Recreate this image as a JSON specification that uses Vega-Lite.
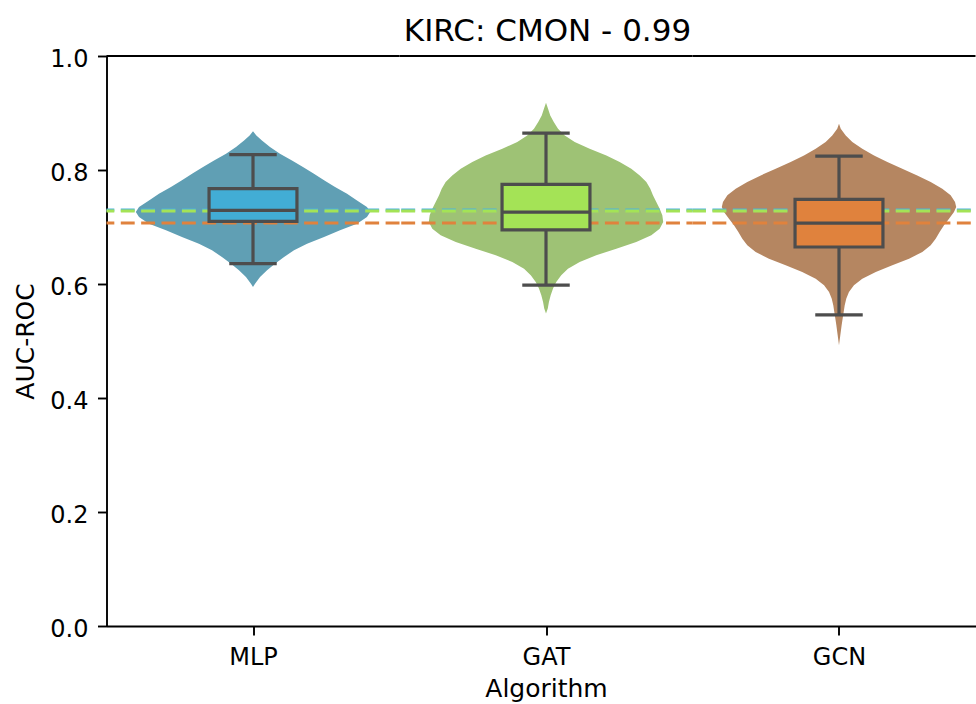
{
  "$schema": "https://vega.github.io/schema/vega-lite/v6.json",
  "padding": {"left": 13.5, "top": 16, "right": 0, "bottom": 0},
  "config": {
    "view": {"stroke": null},
    "font": "DejaVu Sans",
    "axis": {"domainColor": "#000", "domainWidth": 1.9, "tickColor": "#000", "tickWidth": 1.9, "tickSize": 9, "labelColor": "#000", "labelFontSize": 24, "labelFont": "DejaVu Sans", "titleFont": "DejaVu Sans", "titleFontSize": 25, "titleFontWeight": "normal", "titleColor": "#000", "grid": false, "labelFlush": false}
  },
  "datasets": {
    "violin": [
      {"alg": "MLP", "value": 0.8682, "density": 0},
      {"alg": "MLP", "value": 0.8607, "density": 0.023},
      {"alg": "MLP", "value": 0.8519, "density": 0.061},
      {"alg": "MLP", "value": 0.8402, "density": 0.116},
      {"alg": "MLP", "value": 0.8285, "density": 0.184},
      {"alg": "MLP", "value": 0.8168, "density": 0.266},
      {"alg": "MLP", "value": 0.8051, "density": 0.341},
      {"alg": "MLP", "value": 0.7934, "density": 0.416},
      {"alg": "MLP", "value": 0.7818, "density": 0.485},
      {"alg": "MLP", "value": 0.7701, "density": 0.56},
      {"alg": "MLP", "value": 0.7584, "density": 0.642},
      {"alg": "MLP", "value": 0.7467, "density": 0.71},
      {"alg": "MLP", "value": 0.735, "density": 0.778},
      {"alg": "MLP", "value": 0.7263, "density": 0.8},
      {"alg": "MLP", "value": 0.7175, "density": 0.778},
      {"alg": "MLP", "value": 0.7058, "density": 0.71},
      {"alg": "MLP", "value": 0.6941, "density": 0.594},
      {"alg": "MLP", "value": 0.6824, "density": 0.485},
      {"alg": "MLP", "value": 0.6708, "density": 0.369},
      {"alg": "MLP", "value": 0.6591, "density": 0.28},
      {"alg": "MLP", "value": 0.6474, "density": 0.212},
      {"alg": "MLP", "value": 0.6357, "density": 0.15},
      {"alg": "MLP", "value": 0.624, "density": 0.096},
      {"alg": "MLP", "value": 0.6123, "density": 0.048},
      {"alg": "MLP", "value": 0.6006, "density": 0.014},
      {"alg": "MLP", "value": 0.5948, "density": 0},
      {"alg": "GAT", "value": 0.9179, "density": 0},
      {"alg": "GAT", "value": 0.9074, "density": 0.014},
      {"alg": "GAT", "value": 0.8957, "density": 0.029},
      {"alg": "GAT", "value": 0.884, "density": 0.053},
      {"alg": "GAT", "value": 0.8723, "density": 0.082},
      {"alg": "GAT", "value": 0.8607, "density": 0.128},
      {"alg": "GAT", "value": 0.849, "density": 0.196},
      {"alg": "GAT", "value": 0.8373, "density": 0.298},
      {"alg": "GAT", "value": 0.8256, "density": 0.412},
      {"alg": "GAT", "value": 0.8139, "density": 0.503},
      {"alg": "GAT", "value": 0.8022, "density": 0.582},
      {"alg": "GAT", "value": 0.7905, "density": 0.64},
      {"alg": "GAT", "value": 0.7789, "density": 0.685},
      {"alg": "GAT", "value": 0.7672, "density": 0.712},
      {"alg": "GAT", "value": 0.7555, "density": 0.73},
      {"alg": "GAT", "value": 0.7438, "density": 0.753},
      {"alg": "GAT", "value": 0.7321, "density": 0.776},
      {"alg": "GAT", "value": 0.7204, "density": 0.794},
      {"alg": "GAT", "value": 0.7087, "density": 0.8},
      {"alg": "GAT", "value": 0.697, "density": 0.776},
      {"alg": "GAT", "value": 0.6854, "density": 0.719},
      {"alg": "GAT", "value": 0.6737, "density": 0.616},
      {"alg": "GAT", "value": 0.662, "density": 0.48},
      {"alg": "GAT", "value": 0.6503, "density": 0.343},
      {"alg": "GAT", "value": 0.6386, "density": 0.23},
      {"alg": "GAT", "value": 0.6269, "density": 0.15},
      {"alg": "GAT", "value": 0.6152, "density": 0.104},
      {"alg": "GAT", "value": 0.6036, "density": 0.07},
      {"alg": "GAT", "value": 0.5919, "density": 0.048},
      {"alg": "GAT", "value": 0.5802, "density": 0.032},
      {"alg": "GAT", "value": 0.5685, "density": 0.02},
      {"alg": "GAT", "value": 0.5568, "density": 0.012},
      {"alg": "GAT", "value": 0.5481, "density": 0},
      {"alg": "GCN", "value": 0.8811, "density": 0},
      {"alg": "GCN", "value": 0.8723, "density": 0.012},
      {"alg": "GCN", "value": 0.8607, "density": 0.046},
      {"alg": "GCN", "value": 0.849, "density": 0.091},
      {"alg": "GCN", "value": 0.8373, "density": 0.159},
      {"alg": "GCN", "value": 0.8256, "density": 0.239},
      {"alg": "GCN", "value": 0.8139, "density": 0.33},
      {"alg": "GCN", "value": 0.8022, "density": 0.432},
      {"alg": "GCN", "value": 0.7905, "density": 0.534},
      {"alg": "GCN", "value": 0.7789, "density": 0.626},
      {"alg": "GCN", "value": 0.7672, "density": 0.705},
      {"alg": "GCN", "value": 0.7555, "density": 0.762},
      {"alg": "GCN", "value": 0.7438, "density": 0.792},
      {"alg": "GCN", "value": 0.735, "density": 0.8},
      {"alg": "GCN", "value": 0.7263, "density": 0.785},
      {"alg": "GCN", "value": 0.7146, "density": 0.751},
      {"alg": "GCN", "value": 0.7029, "density": 0.717},
      {"alg": "GCN", "value": 0.6912, "density": 0.687},
      {"alg": "GCN", "value": 0.6795, "density": 0.66},
      {"alg": "GCN", "value": 0.6678, "density": 0.626},
      {"alg": "GCN", "value": 0.6561, "density": 0.569},
      {"alg": "GCN", "value": 0.6445, "density": 0.478},
      {"alg": "GCN", "value": 0.6328, "density": 0.364},
      {"alg": "GCN", "value": 0.6211, "density": 0.251},
      {"alg": "GCN", "value": 0.6094, "density": 0.159},
      {"alg": "GCN", "value": 0.5977, "density": 0.102},
      {"alg": "GCN", "value": 0.586, "density": 0.068},
      {"alg": "GCN", "value": 0.5744, "density": 0.05},
      {"alg": "GCN", "value": 0.5627, "density": 0.039},
      {"alg": "GCN", "value": 0.551, "density": 0.032},
      {"alg": "GCN", "value": 0.5393, "density": 0.025},
      {"alg": "GCN", "value": 0.5276, "density": 0.018},
      {"alg": "GCN", "value": 0.5101, "density": 0.009},
      {"alg": "GCN", "value": 0.4925, "density": 0}
    ],
    "box": [
      {"alg": "MLP", "lo": 0.6358, "q1": 0.710, "med": 0.7292, "q3": 0.7672, "hi": 0.8268},
      {"alg": "GAT", "lo": 0.5982, "q1": 0.695, "med": 0.7262, "q3": 0.7748, "hi": 0.8647},
      {"alg": "GCN", "lo": 0.5457, "q1": 0.6649, "med": 0.7069, "q3": 0.7485, "hi": 0.8244}
    ],
    "means": [
      {"alg": "MLP", "mean": 0.730},
      {"alg": "GAT", "mean": 0.728},
      {"alg": "GCN", "mean": 0.707}
    ]
  },
  "spacing": 0,
  "bounds": "flush",
  "align": "none",
  "resolve": {"scale": {"x": "independent"}},
  "hconcat": [
    {
      "width": 293, "height": 570,
      "layer": [
        {"data": {"name": "violin"}, "transform": [{"filter": "datum.alg === 'MLP'"}],
         "mark": {"type": "area", "orient": "horizontal", "fill": "#609fb4"},
         "encoding": {
           "y": {"field": "value", "type": "quantitative", "scale": {"domain": [0, 1], "nice": false, "zero": false}, "title": "AUC-ROC",
                 "axis": {"values": [0, 0.2, 0.4, 0.6, 0.8, 1.0], "format": ".1f", "labelPadding": 9.5, "labelOffset": 3.5, "titlePadding": 11.3}},
           "x": {"field": "density", "type": "quantitative", "stack": "center", "scale": {"domain": [-0.1, 0.9], "nice": false, "zero": false}, "title": null,
                 "axis": {"values": [0.4], "labelExpr": "'MLP'", "labelPadding": 10.3}}
         }},
        {"data": {"name": "means"},
         "mark": {"type": "rule", "strokeWidth": 3, "strokeDash": [13.9, 6.47], "strokeDashOffset": 0},
         "encoding": {
           "y": {"field": "mean", "type": "quantitative", "title": "AUC-ROC"},
           "stroke": {"field": "alg", "type": "nominal", "scale": {"domain": ["MLP", "GAT", "GCN"], "range": ["#4fb4dc", "#a4e356", "#e0823d"]}, "legend": null}
         }},
        {"data": {"name": "box"}, "transform": [{"filter": "datum.alg === 'MLP'"}],
         "layer": [
           {"mark": {"type": "rule", "stroke": "#4d4d4d", "strokeWidth": 3.2},
            "encoding": {"x": {"datum": 0.4, "title": null}, "y": {"field": "lo", "type": "quantitative", "title": "AUC-ROC"}, "y2": {"field": "hi"}}},
           {"mark": {"type": "rule", "stroke": "#4d4d4d", "strokeWidth": 3.2},
            "encoding": {"x": {"datum": 0.319, "title": null}, "x2": {"datum": 0.481}, "y": {"field": "lo", "type": "quantitative", "title": "AUC-ROC"}}},
           {"mark": {"type": "rule", "stroke": "#4d4d4d", "strokeWidth": 3.2},
            "encoding": {"x": {"datum": 0.319, "title": null}, "x2": {"datum": 0.481}, "y": {"field": "hi", "type": "quantitative", "title": "AUC-ROC"}}},
           {"mark": {"type": "rect", "fill": "#42add5", "stroke": "#4d4d4d", "strokeWidth": 3.2},
            "encoding": {"x": {"datum": 0.25, "title": null}, "x2": {"datum": 0.55}, "y": {"field": "q1", "type": "quantitative", "title": "AUC-ROC"}, "y2": {"field": "q3"}}},
           {"mark": {"type": "rule", "stroke": "#4d4d4d", "strokeWidth": 3.2},
            "encoding": {"x": {"datum": 0.25, "title": null}, "x2": {"datum": 0.55}, "y": {"field": "med", "type": "quantitative", "title": "AUC-ROC"}}}
         ]},
        {"data": {"values": [{}]},
         "mark": {"type": "rule", "stroke": "#000", "strokeWidth": 1.9},
         "encoding": {"y": {"datum": 1, "title": "AUC-ROC"}}}
      ]
    },
    {
      "width": 293, "height": 570,
      "title": {"text": "KIRC: CMON - 0.99", "fontSize": 31, "font": "DejaVu Sans", "fontWeight": "normal", "color": "#000", "offset": 6.6, "anchor": "middle", "dx": 1.5},
      "layer": [
        {"data": {"name": "violin"}, "transform": [{"filter": "datum.alg === 'GAT'"}],
         "mark": {"type": "area", "orient": "horizontal", "fill": "#9ec275"},
         "encoding": {
           "y": {"field": "value", "type": "quantitative", "scale": {"domain": [0, 1], "nice": false, "zero": false}, "axis": null},
           "x": {"field": "density", "type": "quantitative", "stack": "center", "scale": {"domain": [-0.1, 0.9], "nice": false, "zero": false}, "title": "Algorithm",
                 "axis": {"values": [0.4], "labelExpr": "'GAT'", "labelPadding": 10.3, "titlePadding": 7.5}}
         }},
        {"data": {"name": "means"},
         "mark": {"type": "rule", "strokeWidth": 3, "strokeDash": [13.9, 6.47], "strokeDashOffset": 7.82},
         "encoding": {
           "y": {"field": "mean", "type": "quantitative", "axis": null},
           "stroke": {"field": "alg", "type": "nominal", "scale": {"domain": ["MLP", "GAT", "GCN"], "range": ["#4fb4dc", "#a4e356", "#e0823d"]}, "legend": null}
         }},
        {"data": {"name": "box"}, "transform": [{"filter": "datum.alg === 'GAT'"}],
         "layer": [
           {"mark": {"type": "rule", "stroke": "#4d4d4d", "strokeWidth": 3.2},
            "encoding": {"x": {"datum": 0.4, "title": "Algorithm"}, "y": {"field": "lo", "type": "quantitative", "axis": null}, "y2": {"field": "hi"}}},
           {"mark": {"type": "rule", "stroke": "#4d4d4d", "strokeWidth": 3.2},
            "encoding": {"x": {"datum": 0.319, "title": "Algorithm"}, "x2": {"datum": 0.481}, "y": {"field": "lo", "type": "quantitative", "axis": null}}},
           {"mark": {"type": "rule", "stroke": "#4d4d4d", "strokeWidth": 3.2},
            "encoding": {"x": {"datum": 0.319, "title": "Algorithm"}, "x2": {"datum": 0.481}, "y": {"field": "hi", "type": "quantitative", "axis": null}}},
           {"mark": {"type": "rect", "fill": "#a4e356", "stroke": "#4d4d4d", "strokeWidth": 3.2},
            "encoding": {"x": {"datum": 0.25, "title": "Algorithm"}, "x2": {"datum": 0.55}, "y": {"field": "q1", "type": "quantitative", "axis": null}, "y2": {"field": "q3"}}},
           {"mark": {"type": "rule", "stroke": "#4d4d4d", "strokeWidth": 3.2},
            "encoding": {"x": {"datum": 0.25, "title": "Algorithm"}, "x2": {"datum": 0.55}, "y": {"field": "med", "type": "quantitative", "axis": null}}}
         ]},
        {"data": {"values": [{}]},
         "mark": {"type": "rule", "stroke": "#000", "strokeWidth": 1.9},
         "encoding": {"y": {"datum": 1, "axis": null}}}
      ]
    },
    {
      "width": 283, "height": 570,
      "layer": [
        {"data": {"name": "violin"}, "transform": [{"filter": "datum.alg === 'GCN'"}],
         "mark": {"type": "area", "orient": "horizontal", "fill": "#b58661"},
         "encoding": {
           "y": {"field": "value", "type": "quantitative", "scale": {"domain": [0, 1], "nice": false, "zero": false}, "axis": null},
           "x": {"field": "density", "type": "quantitative", "stack": "center", "scale": {"domain": [-0.1, 0.8659], "nice": false, "zero": false}, "title": null,
                 "axis": {"values": [0.4], "labelExpr": "'GCN'", "labelPadding": 10.3}}
         }},
        {"data": {"name": "means"},
         "mark": {"type": "rule", "strokeWidth": 3, "strokeDash": [13.9, 6.47], "strokeDashOffset": 15.64},
         "encoding": {
           "y": {"field": "mean", "type": "quantitative", "axis": null},
           "stroke": {"field": "alg", "type": "nominal", "scale": {"domain": ["MLP", "GAT", "GCN"], "range": ["#4fb4dc", "#a4e356", "#e0823d"]}, "legend": null}
         }},
        {"data": {"name": "box"}, "transform": [{"filter": "datum.alg === 'GCN'"}],
         "layer": [
           {"mark": {"type": "rule", "stroke": "#4d4d4d", "strokeWidth": 3.2},
            "encoding": {"x": {"datum": 0.4, "title": null}, "y": {"field": "lo", "type": "quantitative", "axis": null}, "y2": {"field": "hi"}}},
           {"mark": {"type": "rule", "stroke": "#4d4d4d", "strokeWidth": 3.2},
            "encoding": {"x": {"datum": 0.319, "title": null}, "x2": {"datum": 0.481}, "y": {"field": "lo", "type": "quantitative", "axis": null}}},
           {"mark": {"type": "rule", "stroke": "#4d4d4d", "strokeWidth": 3.2},
            "encoding": {"x": {"datum": 0.319, "title": null}, "x2": {"datum": 0.481}, "y": {"field": "hi", "type": "quantitative", "axis": null}}},
           {"mark": {"type": "rect", "fill": "#e0823d", "stroke": "#4d4d4d", "strokeWidth": 3.2},
            "encoding": {"x": {"datum": 0.25, "title": null}, "x2": {"datum": 0.55}, "y": {"field": "q1", "type": "quantitative", "axis": null}, "y2": {"field": "q3"}}},
           {"mark": {"type": "rule", "stroke": "#4d4d4d", "strokeWidth": 3.2},
            "encoding": {"x": {"datum": 0.25, "title": null}, "x2": {"datum": 0.55}, "y": {"field": "med", "type": "quantitative", "axis": null}}}
         ]},
        {"data": {"values": [{}]},
         "mark": {"type": "rule", "stroke": "#000", "strokeWidth": 1.9},
         "encoding": {"y": {"datum": 1, "axis": null}}}
      ]
    }
  ]
}
